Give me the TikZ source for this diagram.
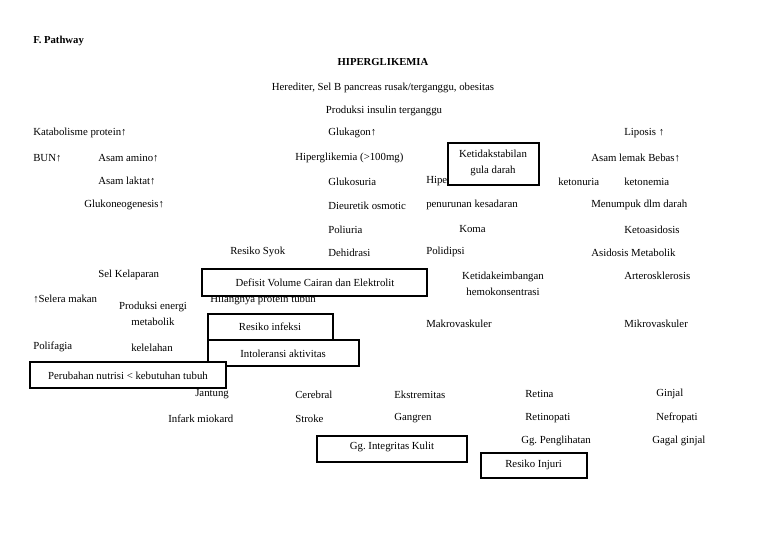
\documentclass[tikz,border=0pt]{standalone}
\usepackage{fontspec}
\setmainfont{Liberation Serif}
\begin{document}
\begin{tikzpicture}[x=0.75pt,y=-0.75pt,
  every node/.style={inner sep=0pt, yshift=-1pt, font=\fontsize{8.1}{12}\selectfont},
  lbl/.style={anchor=west},
  ctr/.style={align=center},
  boxr/.style={draw=black, fill=white, line width=1.3pt}]
\useasboundingbox[fill=white] (0,0) rectangle (768,543);

% title
\node[lbl, font=\fontsize{8}{9}\selectfont\bfseries] (title) at (33,40) {F. Pathway};
\node[font=\fontsize{8}{9}\selectfont\bfseries] (hip) at (383,61) {HIPERGLIKEMIA};
\node (her) at (383,87) {Herediter, Sel B pancreas rusak/terganggu, obesitas};
\node (prod) at (384,110) {Produksi insulin terganggu};

% row 1
\node[lbl] (kat) at (33,132) {Katabolisme protein↑};
\node[lbl] (glk) at (328,132) {Glukagon↑};
\node[lbl] (lip) at (624,132) {Liposis ↑};
% row 2
\node[lbl] (bun) at (33,157) {BUN↑};
\node[lbl] (ami) at (98,157) {Asam amino↑};
\node[lbl] (hpg) at (295,157) {Hiperglikemia (>100mg)};
\node[lbl] (alb) at (591,157) {Asam lemak Bebas↑};
% row 3
\node[lbl] (lak) at (98,180) {Asam laktat↑};
\node[lbl] (gls) at (328,180) {Glukosuria};
\node[lbl] (hipe) at (426,180) {Hipe};
\node[lbl] (ktu) at (558,180) {ketonuria};
\node[lbl] (kte) at (624,180) {ketonemia};
% row 4
\node[lbl] (gne) at (84,204) {Glukoneogenesis↑};
\node[lbl] (die) at (328,204) {Dieuretik osmotic};
\node[lbl] (pen) at (426,204) {penurunan kesadaran};
\node[lbl] (men) at (591,204) {Menumpuk dlm darah};
% row 5
\node[lbl] (pol) at (328,228) {Poliuria};
\node[lbl] (kom) at (459,228) {Koma};
\node[lbl] (ket) at (624,228) {Ketoasidosis};
% row 6
\node[lbl] (rsy) at (230,251) {Resiko Syok};
\node[lbl] (deh) at (328,251) {Dehidrasi};
\node[lbl] (pdp) at (426,251) {Polidipsi};
\node[lbl] (asm) at (591,251) {Asidosis Metabolik};
% row 7
\node[lbl] (sel) at (98,274) {Sel Kelaparan};
\node[ctr] (kei) at (503,282) {Ketidakeimbangan\\hemokonsentrasi};
\node[lbl] (art) at (624,274) {Arterosklerosis};
% row 8
\node[lbl] (sle) at (33,298) {↑Selera makan};
\node[ctr] (pem) at (153,312) {Produksi energi\\metabolik};
\node[lbl] (hil) at (210,299) {Hilangnya protein tubuh};
\node[lbl] (mak) at (426,322) {Makrovaskuler};
\node[lbl] (mik) at (624,322) {Mikrovaskuler};
\node[lbl] (plf) at (33,346) {Polifagia};
\node[lbl] (kel) at (131,346) {kelelahan};
% lower rows
\node[lbl] (jan) at (195,393) {Jantung};
\node[lbl] (cer) at (295,393) {Cerebral};
\node[lbl] (eks) at (394,393) {Ekstremitas};
\node[lbl] (ret) at (525,393) {Retina};
\node[lbl] (gin) at (656,393) {Ginjal};
\node[lbl] (inf) at (168,417) {Infark miokard};
\node[lbl] (str) at (295,417) {Stroke};
\node[lbl] (gan) at (394,417) {Gangren};
\node[lbl] (rtp) at (525,417) {Retinopati};
\node[lbl] (nef) at (656,417) {Nefropati};
\node[lbl] (ggp) at (521,440) {Gg.\ Penglihatan};
\node[lbl] (ggg) at (652,440) {Gagal ginjal};

% boxes
\draw[boxr] (448,143) rectangle (539,185);
\node[ctr] (kst) at (493,162) {Ketidakstabilan\\gula darah};

\draw[boxr] (202,269) rectangle (427,296);
\node (dvc) at (315,281) {Defisit Volume Cairan dan Elektrolit};

\draw[boxr] (208,314) rectangle (333,340);
\node (rin) at (270,325) {Resiko infeksi};

\draw[boxr] (208,340) rectangle (359,366);
\node (int) at (283,352) {Intoleransi aktivitas};

\draw[boxr] (30,362) rectangle (226,388);
\node (pnt) at (128,374) {Perubahan nutrisi < kebutuhan tubuh};

\draw[boxr] (317,436) rectangle (467,462);
\node (gik) at (392,446) {Gg.\ Integritas Kulit};

\draw[boxr] (481,453) rectangle (587,478);
\node[lbl] (rij) at (505,464) {Resiko Injuri};
\end{tikzpicture}
\end{document}
